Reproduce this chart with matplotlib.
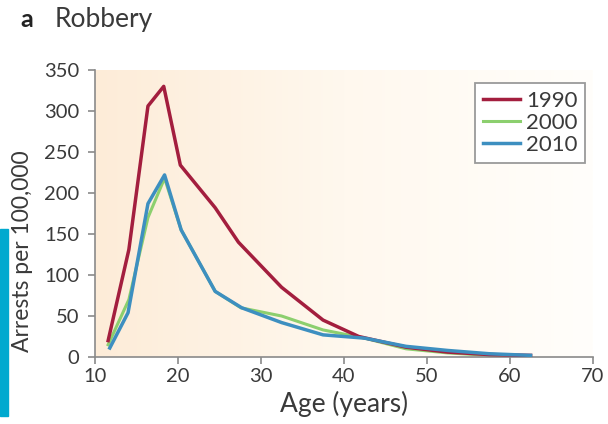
import numpy as np
import matplotlib
matplotlib.use('Agg')
import matplotlib.pyplot as plt
from matplotlib.patches import Rectangle

# data
age_1990 = [11.6, 14.1, 16.4, 18.3, 20.3, 24.5, 27.3, 32.5, 37.5, 41.8, 47.5, 52.5, 57.5, 62.5]
arr_1990 = [20, 131, 306, 330, 234, 182, 140, 85, 45, 25, 12, 6, 3, 2]
age_2000 = [11.6, 14.1, 16.4, 18.4, 20.4, 24.5, 27.6, 32.5, 37.5, 42.5, 47.5, 52.5, 57.5, 62.5]
arr_2000 = [15, 70, 170, 218, 155, 80, 60, 50, 33, 23, 10, 5, 2, 1]
age_2010 = [11.8, 14.0, 16.4, 18.4, 20.4, 24.5, 27.7, 32.5, 37.5, 42.5, 47.5, 52.5, 57.5, 62.5]
arr_2010 = [11, 54, 187, 222, 155, 80, 60, 42, 27, 23, 13, 8, 4, 2]
years = ['1990', '2000', '2010']
colors = ['#a31e3e', '#8ccf6e', '#3d8fc0']

plt.rcParams['font.family'] = ['Lato', 'DejaVu Sans']
txt = '#3a3a3a'

fig = plt.figure(figsize=(6.08, 4.24), dpi=100)
ax = fig.add_axes([0.156, 0.158, 0.819, 0.677])

# peach gradient background
grad = np.linspace(0, 1, 256).reshape(1, -1)
cmap = matplotlib.colors.LinearSegmentedColormap.from_list('bg', ['#fdecd8', '#fff8ee', '#fffefb'])
ax.imshow(grad, extent=[10, 70, 0, 350], aspect='auto', cmap=cmap, zorder=0)

ax.plot(age_1990, arr_1990, color=colors[0], lw=2.5, label=years[0], zorder=3)
ax.plot(age_2000, arr_2000, color=colors[1], lw=2.2, label=years[1], zorder=2)
ax.plot(age_2010, arr_2010, color=colors[2], lw=2.5, label=years[2], zorder=4)

ax.set_xlim(10, 70)
ax.set_ylim(0, 350)
ax.set_xticks(range(10, 71, 10))
ax.set_yticks(range(0, 351, 50))
for s in ['top', 'right']:
    ax.spines[s].set_visible(False)
for s in ['left', 'bottom']:
    ax.spines[s].set_color('#8a8a8a')
    ax.spines[s].set_linewidth(1.2)
ax.tick_params(direction='out', color='#8a8a8a', length=5, width=1.2,
               labelsize=14.5, labelcolor=txt)
ax.tick_params(axis='y', pad=6)
ax.tick_params(axis='x', pad=3)
ax.set_xlabel('Age (years)', fontsize=19, color=txt, labelpad=4)
ax.set_ylabel('Arrests per 100,000', fontsize=16.5, color=txt)
ax.yaxis.set_label_coords(-0.125, 0.37)

leg = ax.legend(loc='upper right', bbox_to_anchor=(0.985, 0.955), fontsize=16,
                handlelength=1.7, handletextpad=0.25, labelspacing=0.1,
                borderpad=0.35, borderaxespad=0, fancybox=False, framealpha=1)
leg.get_frame().set_edgecolor('#9a9a9a')
leg.get_frame().set_linewidth(1.3)
for t in leg.get_texts():
    t.set_color(txt)

fig.text(0.033, 0.953, 'a', fontsize=18, fontweight='bold', color='#222222', va='center')
fig.text(0.09, 0.953, 'Robbery', fontsize=19, color=txt, va='center')

# cyan strip at left edge
fig.patches.append(Rectangle((0, 0.02), 0.013, 0.44, transform=fig.transFigure,
                             color='#00a9cf', zorder=5))

fig.savefig('out.png', dpi=100)
